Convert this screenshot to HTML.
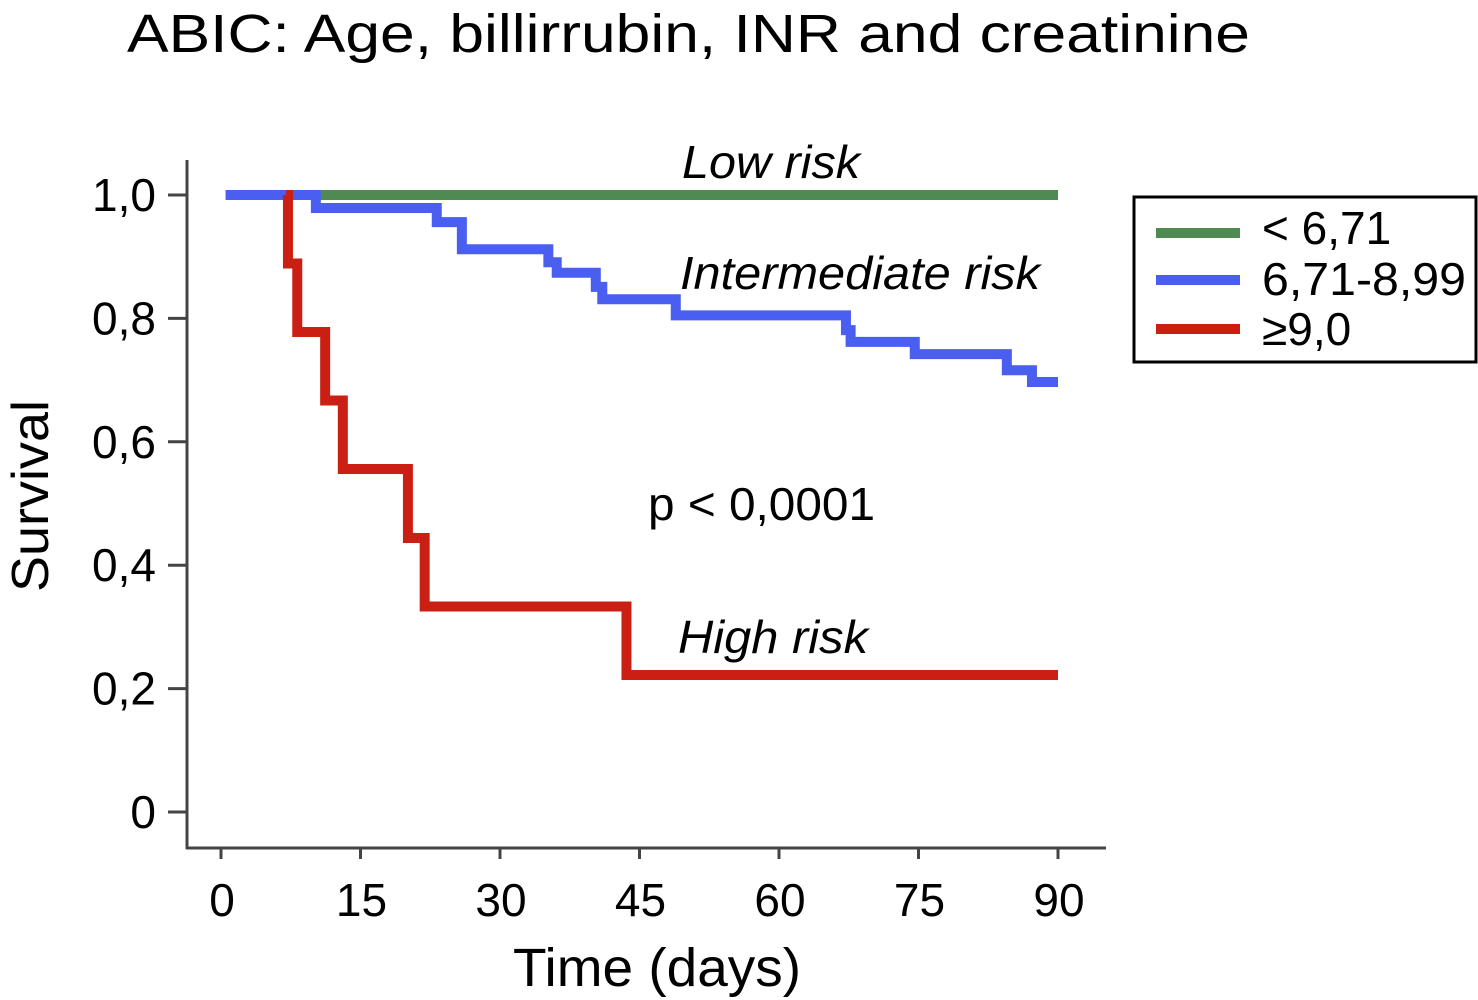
<!DOCTYPE html>
<html><head><meta charset="utf-8"><style>
html,body{margin:0;padding:0;background:#fff;}
svg{display:block;font-family:"Liberation Sans",Arial,sans-serif;}
</style></head><body>
<svg id="chart" width="1478" height="1000" viewBox="0 0 1478 1000">
<text x="127" y="52" font-size="54" textLength="1123" lengthAdjust="spacingAndGlyphs" fill="#000">ABIC: Age, billirrubin, INR and creatinine</text>
<g id="axes"></g>
<g id="series"></g>
<text x="682" y="178" font-size="46" font-style="italic" textLength="178" lengthAdjust="spacingAndGlyphs">Low risk</text>
<text x="680" y="289" font-size="46" font-style="italic" textLength="360" lengthAdjust="spacingAndGlyphs">Intermediate risk</text>
<text x="648" y="520" font-size="46" textLength="227" lengthAdjust="spacingAndGlyphs">p &lt; 0,0001</text>
<text x="678" y="653" font-size="46" font-style="italic" textLength="190" lengthAdjust="spacingAndGlyphs">High risk</text>
<text x="657" y="986" font-size="54" text-anchor="middle" textLength="288" lengthAdjust="spacingAndGlyphs">Time (days)</text>
<text transform="translate(48,496) rotate(-90)" font-size="52" text-anchor="middle" textLength="192" lengthAdjust="spacingAndGlyphs">Survival</text>
<g>
<rect x="1134" y="197" width="342" height="165" fill="#fff" stroke="#000" stroke-width="3"/>
<line x1="1156" y1="233" x2="1240" y2="233" stroke="#4e8a52" stroke-width="10"/>
<text x="1262" y="244" font-size="46">&lt; 6,71</text>
<line x1="1156" y1="280" x2="1240" y2="280" stroke="#4a5ef0" stroke-width="10"/>
<text x="1262" y="295" font-size="46" textLength="204" lengthAdjust="spacingAndGlyphs">6,71-8,99</text>
<line x1="1156" y1="329" x2="1240" y2="329" stroke="#cc1f14" stroke-width="10"/>
<text x="1262" y="345" font-size="46">≥9,0</text>
</g>
</svg>
<script>
const xTicks = [0, 15, 30, 45, 60, 75, 90];
const yTicks = [0, 0.2, 0.4, 0.6, 0.8, 1.0];
const yTickLabels = ["0", "0,2", "0,4", "0,6", "0,8", "1,0"];
const lowTimes = [0.5, 90];
const lowSurv = [1.0, 1.0];
const intTimes = [10.2, 23.2, 25.9, 35.2, 36.1, 40.3, 41.0, 48.9, 67.2, 67.7, 74.6, 84.5, 87.2];
const intSurv = [0.979, 0.956, 0.912, 0.891, 0.874, 0.851, 0.831, 0.805, 0.781, 0.762, 0.742, 0.716, 0.697];
const highTimes = [7.2, 8.2, 11.2, 13.1, 20.1, 21.9, 43.6];
const highSurv = [0.889, 0.778, 0.667, 0.556, 0.444, 0.333, 0.222];

const NS = "http://www.w3.org/2000/svg";
const X = d => 221 + d * 9.3;
const Y = s => 812 - s * 617;
function mk(tag, attrs, parent) {
  const e = document.createElementNS(NS, tag);
  for (const k in attrs) e.setAttribute(k, attrs[k]);
  parent.appendChild(e);
  return e;
}
const axes = document.getElementById("axes");
const series = document.getElementById("series");
let a = mk("line", {x1: 187, y1: 160, x2: 187, y2: 849, stroke: "#444", "stroke-width": 3}, axes);


a = mk("line", {x1: 186, y1: 848, x2: 1106, y2: 848, stroke: "#444", "stroke-width": 3}, axes);


yTicks.forEach((v, i) => {
  const t = mk("line", {x1: 168, y1: Y(v), x2: 187, y2: Y(v), stroke: "#444", "stroke-width": 3}, axes);
  
  
  const l = mk("text", {x: 156, y: Y(v) + 16, "font-size": 46, "text-anchor": "end"}, axes);
  l.textContent = yTickLabels[i];
  
  
});
xTicks.forEach(v => {
  const t = mk("line", {x1: X(v), y1: 848, x2: X(v), y2: 859, stroke: "#444", "stroke-width": 3}, axes);
  
  
  const l = mk("text", {x: X(v) + 1, y: 916, "font-size": 46, "text-anchor": "middle"}, axes);
  l.textContent = String(v);
  
  
});
function km(times, surv, start, end) {
  let s = 1.0;
  let d = "M" + X(start) + "," + Y(s);
  times.forEach((t, i) => {
    d += " H" + X(t) + " V" + Y(surv[i]);
    s = surv[i];
  });
  d += " H" + X(end);
  return d;
}
let p = mk("path", {d: km([], [], lowTimes[0], lowTimes[1]), fill: "none", stroke: "#4e8a52", "stroke-width": 10}, series);


p = mk("path", {d: km(intTimes, intSurv, 0.5, 90), fill: "none", stroke: "#4a5ef0", "stroke-width": 10}, series);


p = mk("path", {d: km(highTimes, highSurv, 7.0, 90), fill: "none", stroke: "#cc1f14", "stroke-width": 10}, series);


</script>
</body></html>
